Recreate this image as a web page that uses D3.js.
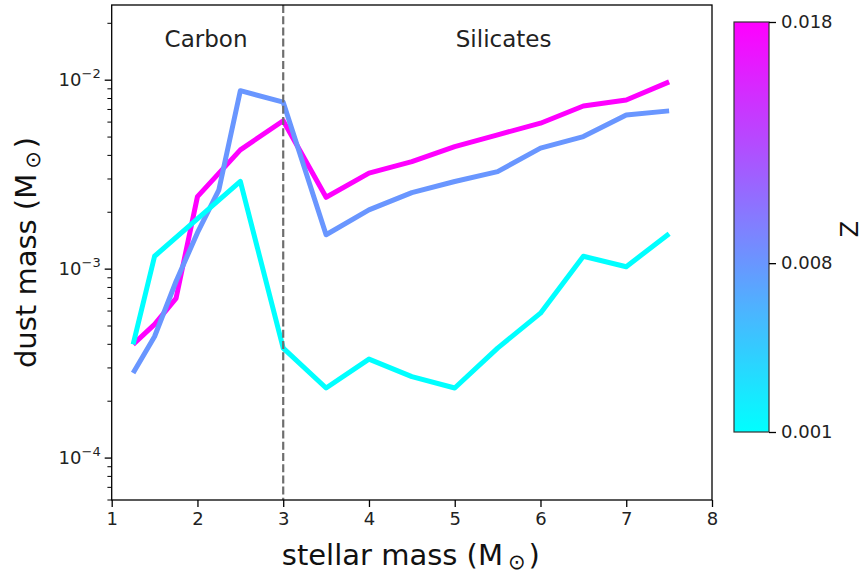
<!DOCTYPE html>
<html>
<head>
<meta charset="utf-8">
<script src="https://cdn.jsdelivr.net/npm/d3@7"></script>
<style>
  html, body { margin: 0; padding: 0; background: #fff; }
  svg { display: block; font-family: "DejaVu Sans", sans-serif; }
</style>
</head>
<body>
<svg id="chart" width="864" height="574"></svg>
<script>
// ---- data ----
const metallicities = [0.018, 0.008, 0.001];
const massZ018 = [1.25, 1.5, 1.75, 2, 2.5, 3, 3.5, 4, 4.5, 5, 5.5, 6, 6.5, 7, 7.5];
const dustZ018 = [4.0e-4, 5.1e-4, 7.0e-4, 2.42e-3, 4.28e-3, 6.1e-3, 2.40e-3, 3.22e-3, 3.71e-3, 4.45e-3, 5.14e-3, 5.92e-3, 7.3e-3, 7.85e-3, 9.8e-3];
const massZ008 = [1.25, 1.5, 1.75, 2, 2.25, 2.5, 3, 3.5, 4, 4.5, 5, 5.5, 6, 6.5, 7, 7.5];
const dustZ008 = [2.82e-4, 4.4e-4, 8.6e-4, 1.56e-3, 2.63e-3, 8.8e-3, 7.65e-3, 1.52e-3, 2.06e-3, 2.54e-3, 2.91e-3, 3.28e-3, 4.37e-3, 5.03e-3, 6.55e-3, 6.88e-3];
const massZ001 = [1.25, 1.5, 2.5, 3, 3.5, 4, 4.5, 5, 5.5, 6, 6.5, 7, 7.5];
const dustZ001 = [4.0e-4, 1.17e-3, 2.91e-3, 3.82e-4, 2.35e-4, 3.34e-4, 2.70e-4, 2.35e-4, 3.82e-4, 5.85e-4, 1.17e-3, 1.03e-3, 1.54e-3];
const xTicks = [1, 2, 3, 4, 5, 6, 7, 8];
const yTicks = [1e-4, 1e-3, 1e-2];
const yTickExp = ["\u22124", "\u22123", "\u22122"];
const cbTicks = [0.001, 0.008, 0.018];
const cbTickLabels = ["0.001", "0.008", "0.018"];
const regionLabels = ["Carbon", "Silicates"];
const regionX = [2.1, 5.57];
const boundaryMass = 3;

const seriesList = [
  { z: metallicities[0], mass: massZ018, dust: dustZ018 },
  { z: metallicities[1], mass: massZ008, dust: dustZ008 },
  { z: metallicities[2], mass: massZ001, dust: dustZ001 }
];

// ---- layout ----
const svg = d3.select("#chart");
const L = 111.7, R = 712, T = 5, B = 500;
const x = d3.scaleLinear().domain([1, 8]).range([L, R]);
const y = d3.scaleLog().domain([6.0e-5, 0.025]).range([B, T]);
const zScale = d3.scaleLinear().domain([0.001, 0.018]).range([0, 1]);
const cool = t => d3.interpolateRgb("#00ffff", "#ff00ff")(t);

// clip
svg.append("defs").append("clipPath").attr("id", "clip")
  .append("rect").attr("x", L).attr("y", T).attr("width", R - L).attr("height", B - T);

// lines
const line = d3.line().x(d => x(d[0])).y(d => y(d[1]));
const gLines = svg.append("g").attr("clip-path", "url(#clip)");
seriesList.forEach(s => {
  const pts = s.mass.map((m, i) => [m, s.dust[i]]);
  gLines.append("path")
    .datum(pts)
    .attr("d", line)
    .attr("fill", "none")
    .attr("stroke", cool(zScale(s.z)))
    .attr("stroke-width", 5)
    .attr("stroke-linejoin", "round")
    .attr("stroke-linecap", "butt");
});

// dashed boundary
svg.append("line")
  .attr("x1", x(boundaryMass)).attr("x2", x(boundaryMass))
  .attr("y1", T).attr("y2", B)
  .attr("stroke", "#6e6e6e").attr("stroke-width", 2.2)
  .attr("stroke-dasharray", "8,3.2");

// region labels
regionLabels.forEach((t, i) => {
  svg.append("text")
    .attr("x", x(regionX[i])).attr("y", 47)
    .attr("text-anchor", "middle")
    .attr("font-size", 23).attr("fill", "#222")
    .text(t);
});

// frame
svg.append("rect").attr("x", L).attr("y", T).attr("width", R - L).attr("height", B - T)
  .attr("fill", "none").attr("stroke", "#000").attr("stroke-width", 1.3);

// x axis
const xAxis = d3.axisBottom(x).tickValues(xTicks).tickFormat(d3.format("d")).tickSize(7).tickPadding(5);
const gx = svg.append("g").attr("transform", `translate(0,${B})`).call(xAxis);
gx.select(".domain").remove();
gx.selectAll(".tick line").attr("stroke", "#000").attr("stroke-width", 1.3);
gx.selectAll(".tick text").attr("font-size", 18).attr("fill", "#222").attr("font-family", "DejaVu Sans");

// y axis: major + minor ticks
const gy = svg.append("g").attr("transform", `translate(${L},0)`);
const minor = [];
[1e-5, 1e-4, 1e-3, 1e-2].forEach(dec => {
  for (let k = 2; k <= 9; k++) {
    const v = dec * k;
    if (v >= 6.0e-5 && v <= 0.025) minor.push(v);
  }
});
gy.selectAll(".minor").data(minor).enter().append("line")
  .attr("x1", -4.3).attr("x2", 0)
  .attr("y1", d => y(d)).attr("y2", d => y(d))
  .attr("stroke", "#000").attr("stroke-width", 1);
gy.selectAll(".major").data(yTicks).enter().append("line")
  .attr("x1", -7).attr("x2", 0)
  .attr("y1", d => y(d)).attr("y2", d => y(d))
  .attr("stroke", "#000").attr("stroke-width", 1.3);
yTicks.forEach((v, i) => {
  const t = gy.append("text")
    .attr("x", -11).attr("y", y(v) + 6)
    .attr("text-anchor", "end")
    .attr("font-size", 18).attr("fill", "#222");
  t.append("tspan").text("10");
  t.append("tspan").attr("font-size", 13).attr("dy", -8).text(yTickExp[i]);
});

// axis labels
const xl = svg.append("text")
  .attr("x", (L + R) / 2 - 1).attr("y", 565)
  .attr("text-anchor", "middle")
  .attr("font-size", 29).attr("fill", "#111");
xl.append("tspan").text("stellar mass (M");
xl.append("tspan").attr("font-size", 21).attr("dx", 5).attr("dy", 4).text("\u2299");
xl.append("tspan").attr("dx", 3).attr("dy", -4).text(")");

const yl = svg.append("text")
  .attr("transform", `translate(36,${(T + B) / 2}) rotate(-90)`)
  .attr("text-anchor", "middle")
  .attr("font-size", 29).attr("fill", "#111");
yl.append("tspan").text("dust mass (M");
yl.append("tspan").attr("font-size", 21).attr("dx", 5).attr("dy", 4).text("\u2299");
yl.append("tspan").attr("dx", 3).attr("dy", -4).text(")");

// colorbar
const CL = 734, CR = 769, CT = 22, CB = 432;
const grad = svg.select("defs").append("linearGradient")
  .attr("id", "cbgrad").attr("x1", 0).attr("y1", 1).attr("x2", 0).attr("y2", 0);
d3.range(0, 1.0001, 0.1).forEach(t => {
  grad.append("stop").attr("offset", t).attr("stop-color", cool(t));
});
svg.append("rect").attr("x", CL).attr("y", CT).attr("width", CR - CL).attr("height", CB - CT)
  .attr("fill", "url(#cbgrad)").attr("stroke", "#333").attr("stroke-width", 1.2);
const cb = d3.scaleLinear().domain([0.001, 0.018]).range([CB, CT]);
const cbAxis = d3.axisRight(cb).tickValues(cbTicks).tickFormat((d, i) => cbTickLabels[i]).tickSize(7).tickPadding(5);
const gcb = svg.append("g").attr("transform", `translate(${CR},0)`).call(cbAxis);
gcb.select(".domain").remove();
gcb.selectAll(".tick line").attr("stroke", "#000").attr("stroke-width", 1.3);
gcb.selectAll(".tick text").attr("font-size", 18).attr("fill", "#222").attr("font-family", "DejaVu Sans");

svg.append("text")
  .attr("transform", `translate(858,${(CT + CB) / 2 + 2}) rotate(-90)`)
  .attr("text-anchor", "middle")
  .attr("font-size", 24).attr("fill", "#111")
  .text("Z");
</script>
</body>
</html>
